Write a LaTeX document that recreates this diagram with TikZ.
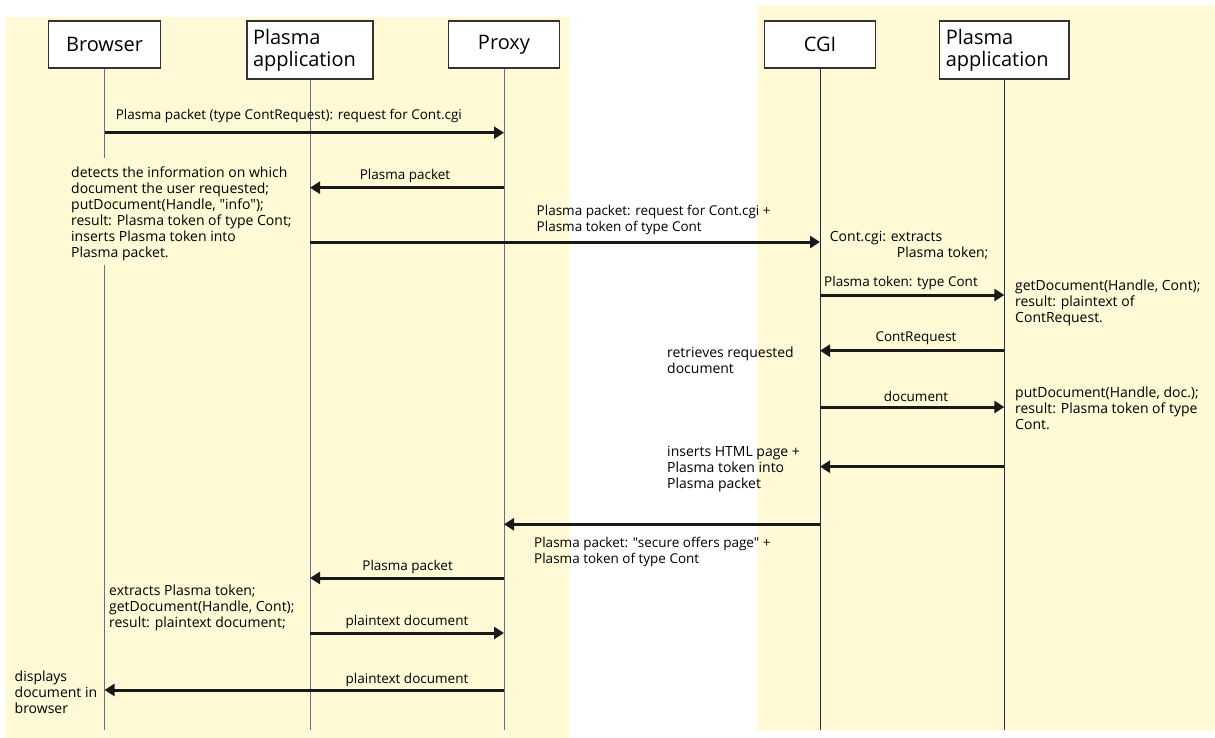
\documentclass[tikz,border=0pt]{standalone}
\usepackage{fontspec}
\setmainfont{Open Sans}[Ligatures=TeXOff]
\usetikzlibrary{arrows.meta}
\definecolor{bgyellow}{HTML}{FFF9D6}
\definecolor{lifeL}{HTML}{707070}
\definecolor{lifeR}{HTML}{303030}
\tikzset{
  actor/.style={draw=black!80, line width=1.1pt, fill=white, inner sep=0pt,
    minimum height=47pt, font=\fontsize{20}{22}\selectfont},
  actor2/.style={draw=black!80, line width=1.1pt, fill=white, inner sep=0pt,
    minimum height=58pt, font=\fontsize{20}{22}\selectfont, align=left},
  lifeleft/.style={draw=lifeL, line width=1pt},
  liferight/.style={draw=lifeR, line width=1pt},
  msg/.style={draw=black!90, line width=3pt, -{Triangle[length=10pt,width=12pt]}},
  lbl/.style={inner sep=0pt, font=\fontsize{13.5}{16}\selectfont},
  lblml/.style={inner sep=0pt, font=\fontsize{13.5}{16}\selectfont, align=left, anchor=north west},
  note/.style={inner sep=0pt, font=\fontsize{14}{16}\selectfont, align=left, anchor=north west}
}
\begin{document}
\begin{tikzpicture}[x=1pt,y=-1pt]
\useasboundingbox (0,0) rectangle (1215,738);
% backgrounds
\fill[bgyellow] (5.7,17.3) rectangle (568.7,737.7);
\fill[bgyellow] (757,5) rectangle (1215,730.7);

% actors
\node[actor, minimum width=112pt] (browser) at (104.5,44.5) {Browser};
\node[actor2, minimum width=126pt, text width=114pt] (papp1) at (310,50) {Plasma\\application};
\node[actor, minimum width=111.5pt] (proxy) at (504,44.5) {Proxy};
\node[actor, minimum width=111.6pt] (cgi) at (820,44.5) {CGI};
\node[actor2, minimum width=129.4pt, text width=117pt] (papp2) at (1004.3,50) {Plasma\\application};

% helper coordinates
\coordinate (bot) at (0,730);
\coordinate (gapTop) at (0,158);
\coordinate (gapBot) at (0,265);
\coordinate (y1) at (0,132.7);
\coordinate (y2) at (0,187.7);
\coordinate (y3) at (0,242);
\coordinate (y4) at (0,295);
\coordinate (y5) at (0,350.7);
\coordinate (y6) at (0,407);
\coordinate (y7) at (0,466.7);
\coordinate (y8) at (0,524.3);
\coordinate (y9) at (0,578);
\coordinate (y10) at (0,633);
\coordinate (y11) at (0,690);

% lifelines
\draw[lifeleft] (browser) -- (browser |- gapTop);
\draw[lifeleft] (browser |- gapBot) -- (browser |- bot);
\draw[lifeleft] (papp1) -- (papp1 |- bot);
\draw[lifeleft] (proxy) -- (proxy |- bot);
\draw[liferight] (cgi) -- (cgi |- bot);
\draw[liferight] (papp2) -- (papp2 |- bot);

% messages
\draw[msg] (browser |- y1) -- (proxy |- y1);
\draw[msg] (proxy |- y2) -- (papp1 |- y2);
\draw[msg] (papp1 |- y3) -- (cgi |- y3);
\draw[msg] (cgi |- y4) -- (papp2 |- y4);
\draw[msg] (papp2 |- y5) -- (cgi |- y5);
\draw[msg] (cgi |- y6) -- (papp2 |- y6);
\draw[msg] (papp2 |- y7) -- (cgi |- y7);
\draw[msg] (cgi |- y8) -- (proxy |- y8);
\draw[msg] (proxy |- y9) -- (papp1 |- y9);
\draw[msg] (papp1 |- y10) -- (proxy |- y10);
\draw[msg] (proxy |- y11) -- (browser |- y11);

% message labels
\node[lbl, anchor=base west] (l1) at (115.6,120) {Plasma packet (type ContRequest): request for Cont.cgi};
\node[lbl, anchor=base] (l2) at (405,180) {Plasma packet};
\node[lblml] (l3) at (536.5,204.5) {\strut Plasma packet: request for Cont.cgi +\\Plasma token of type Cont};
\node[lbl, anchor=base west] (l4) at (824,286) {Plasma token: type Cont};
\node[lbl, anchor=base] (l5) at (916,341.7) {ContRequest};
\node[lbl, anchor=base] (l6) at (916,401.7) {document};
\node[lblml] (l8) at (534,535.8) {\strut Plasma packet: "secure offers page" +\\Plasma token of type Cont};
\node[lbl, anchor=base] (l9) at (407.6,570) {Plasma packet};
\node[lbl, anchor=base] (l10) at (407,625.7) {plaintext document};
\node[lbl, anchor=base] (l11) at (407,683) {plaintext document};

% annotations
\node[note] (a1) at (71,165.8) {\strut detects the information on which\\document the user requested;\\putDocument(Handle, "info");\\result: Plasma token of type Cont;\\inserts Plasma token into\\Plasma packet.};
\node[note] (a2) at (829.7,229.8) {\strut Cont.cgi: extracts\\\hspace*{67pt}Plasma token;};
\node[note] (a3) at (1015,278.8) {\strut getDocument(Handle, Cont);\\result: plaintext of\\ContRequest.};
\node[note] (a4) at (667,345.8) {\strut retrieves requested\\document};
\node[note] (a5) at (1015,386.5) {\strut putDocument(Handle, doc.);\\result: Plasma token of type\\Cont.};
\node[note] (a6) at (667,445.5) {\strut inserts HTML page +\\Plasma token into\\Plasma packet};
\node[note] (a7) at (109,584.5) {\strut extracts Plasma token;\\getDocument(Handle, Cont);\\result: plaintext document;};
\node[note] (a8) at (14.5,670.5) {\strut displays\\document in\\browser};
\end{tikzpicture}
\end{document}
